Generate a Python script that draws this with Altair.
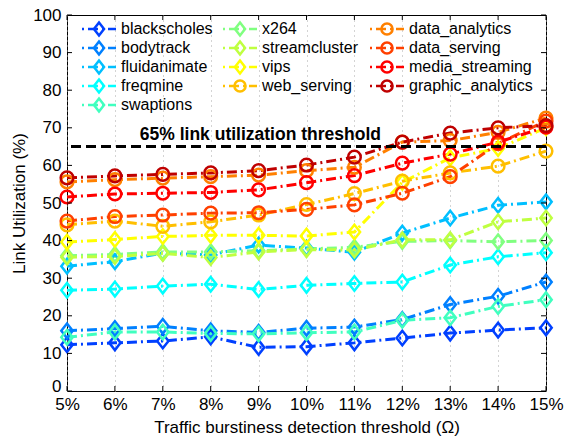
import altair as alt
import pandas as pd

# Detection thresholds (Ω, in %)
thresholds = [5, 6, 7, 8, 9, 10, 11, 12, 13, 14, 15]
y_ticks = [0, 10, 20, 30, 40, 50, 60, 70, 80, 90, 100]
link_threshold = [65]

# Link utilization (%) per benchmark
blackscholes = [12.3, 12.8, 13.3, 14.4, 11.6, 11.8, 12.8, 14.1, 15.4, 16.2, 16.8]
bodytrack = [16.0, 16.6, 17.2, 16.0, 15.6, 16.7, 17.0, 19.0, 23.0, 25.2, 29.0]
fluidanimate = [33.2, 34.4, 36.7, 36.2, 38.8, 38.0, 36.9, 42.0, 46.0, 49.4, 50.3]
freqmine = [26.8, 27.1, 27.9, 28.4, 27.0, 28.1, 28.6, 29.0, 33.5, 35.7, 36.8]
swaptions = [14.3, 15.7, 15.7, 15.3, 15.2, 15.5, 15.7, 18.8, 19.5, 22.5, 24.3]
x264 = [36.0, 36.3, 37.0, 37.0, 37.3, 37.8, 38.2, 39.8, 40.0, 39.7, 40.0]
streamcluster = [35.6, 35.8, 36.6, 35.5, 37.0, 37.6, 37.5, 40.2, 40.2, 45.0, 46.0]
vips = [39.6, 40.3, 41.1, 41.4, 41.4, 41.2, 42.3, 55.5, 62.0, 64.5, 70.0]
web_serving = [44.2, 45.2, 43.8, 45.0, 46.8, 49.6, 52.5, 55.8, 58.0, 59.8, 63.8]
data_analytics = [55.6, 56.2, 56.6, 57.0, 57.4, 58.6, 59.5, 66.2, 66.6, 68.8, 72.6]
data_serving = [45.2, 46.4, 46.8, 47.3, 47.4, 48.3, 49.5, 52.6, 57.0, 65.8, 71.8]
media_streaming = [51.6, 52.4, 52.6, 52.8, 53.5, 55.4, 57.3, 60.6, 63.0, 66.2, 70.2]
graphic_analytics = [56.7, 57.2, 57.6, 58.0, 58.6, 60.1, 62.2, 66.2, 68.6, 70.0, 70.6]

series = {
    "blackscholes": blackscholes,
    "bodytrack": bodytrack,
    "fluidanimate": fluidanimate,
    "freqmine": freqmine,
    "swaptions": swaptions,
    "x264": x264,
    "streamcluster": streamcluster,
    "vips": vips,
    "web_serving": web_serving,
    "data_analytics": data_analytics,
    "data_serving": data_serving,
    "media_streaming": media_streaming,
    "graphic_analytics": graphic_analytics,
}
colors = {
    "blackscholes": "#0040ff",
    "bodytrack": "#0080ff",
    "fluidanimate": "#00bfff",
    "freqmine": "#00ffff",
    "swaptions": "#40ffbf",
    "x264": "#80ff80",
    "streamcluster": "#bfff40",
    "vips": "#ffff00",
    "web_serving": "#ffbf00",
    "data_analytics": "#ff8000",
    "data_serving": "#ff4000",
    "media_streaming": "#ff0000",
    "graphic_analytics": "#bf0000",
}
circle_series = {"web_serving", "data_analytics", "data_serving",
                 "media_streaming", "graphic_analytics"}

# Legend columns
legend_col1 = ["blackscholes", "bodytrack", "fluidanimate", "freqmine", "swaptions"]
legend_col2 = ["x264", "streamcluster", "vips", "web_serving"]
legend_col3 = ["data_analytics", "data_serving", "media_streaming", "graphic_analytics"]

DIAMOND = "M0,-1.15L0.9,0L0,1.15L-0.9,0Z"
CIRCLE = "circle"

names = list(series.keys())

rows = []
for name, vals in series.items():
    for t, v in zip(thresholds, vals):
        rows.append({"threshold": t, "util": v, "series": name})
df = pd.DataFrame(rows)

leg_rows = []
for c, col_names in enumerate([legend_col1, legend_col2, legend_col3]):
    for r, name in enumerate(col_names):
        leg_rows.append({"series": name, "col": c, "row": r})
leg_df = pd.DataFrame(leg_rows)

FONT = "Liberation Sans"
W, H = 479, 376

x_scale = alt.Scale(domain=[5, 15], nice=False, zero=False)
y_scale = alt.Scale(domain=[0, 100], nice=False)
color_scale = alt.Scale(domain=names, range=[colors[s] for s in names])
shape_scale = alt.Scale(
    domain=names,
    range=[CIRCLE if s in circle_series else DIAMOND for s in names],
)

x_axis = alt.Axis(
    values=thresholds,
    labelExpr="datum.value + '%'",
    title="Traffic burstiness detection threshold (Ω)",
    ticks=False,
    domain=False,
    grid=True,
    gridDash=[1, 4],
    gridColor="#a8a8a8",
    gridWidth=1,
    labelFlush=False,
    labelOverlap=False,
    labelPadding=5,
    titlePadding=7,
)
y_axis = alt.Axis(
    values=y_ticks,
    title="Link Utilization (%)",
    ticks=False,
    domain=False,
    grid=False,
    labelFlush=False,
    labelOverlap=False,
    labelOffset={"expr": "datum.value == 0 ? -5 : 0"},
    labelPadding=6,
    titlePadding=4,
)


def X(field):
    return alt.X(field, scale=x_scale, axis=x_axis)


def Y(field):
    return alt.Y(field, scale=y_scale, axis=y_axis)


color_enc = alt.Color("series:N", scale=color_scale, legend=None)
shape_enc = alt.Shape("series:N", scale=shape_scale, legend=None)
DASH_DOT = [10, 4, 2, 4]

base = alt.Chart(df)

lines = base.mark_line(strokeWidth=3, strokeDash=DASH_DOT).encode(
    x=X("threshold:Q"),
    y=Y("util:Q"),
    color=color_enc,
    order=alt.Order("threshold:Q"),
)

points = base.mark_point(filled=False, strokeWidth=2.5, size=160, opacity=1).encode(
    x=X("threshold:Q"),
    y=Y("util:Q"),
    color=color_enc,
    shape=shape_enc,
)

thr_df = pd.DataFrame({"util": link_threshold})
thr_line = alt.Chart(thr_df).mark_rule(
    color="black", strokeWidth=3, strokeDash=[10, 5]
).encode(y=Y("util:Q"))

thr_text = alt.Chart(thr_df).mark_text(
    text="65% link utilization threshold",
    font=FONT,
    fontSize=17.5,
    fontWeight="bold",
    align="left",
    baseline="middle",
    dy=-12,
    color="black",
).encode(
    x=alt.datum(6.52, scale=x_scale, axis=x_axis),
    y=Y("util:Q"),
)

# Inward tick marks on all four sides of the frame
xt_df = pd.DataFrame({"threshold": thresholds})
yt_df = pd.DataFrame({"util": y_ticks})
tick_style = dict(color="black", strokeWidth=1)
x_ticks_bottom = alt.Chart(xt_df).mark_rule(**tick_style).encode(
    x=X("threshold:Q"), y=alt.value(H), y2=alt.value(H - 5))
x_ticks_top = alt.Chart(xt_df).mark_rule(**tick_style).encode(
    x=X("threshold:Q"), y=alt.value(0), y2=alt.value(5))
y_ticks_left = alt.Chart(yt_df).mark_rule(**tick_style).encode(
    y=Y("util:Q"), x=alt.value(0), x2=alt.value(5))
y_ticks_right = alt.Chart(yt_df).mark_rule(**tick_style).encode(
    y=Y("util:Q"), x=alt.value(W - 5), x2=alt.value(W))

# Legend: three columns of line sample + marker + label, placed in pixels
leg_base = alt.Chart(leg_df).transform_calculate(
    lx="[32, 173, 320][datum.col]",
    ly="14 + 19 * datum.row",
)
leg_line = leg_base.transform_calculate(
    x0="datum.lx - 17", x1="datum.lx + 17"
).mark_rule(strokeWidth=2.5, strokeDash=[2, 4, 10, 4]).encode(
    x=alt.X("x0:Q", scale=None),
    x2="x1:Q",
    y=alt.Y("ly:Q", scale=None),
    color=color_enc,
)
leg_marker = leg_base.mark_point(filled=False, strokeWidth=2.5, size=125, opacity=1).encode(
    x=alt.X("lx:Q", scale=None),
    y=alt.Y("ly:Q", scale=None),
    color=color_enc,
    shape=shape_enc,
)
leg_label = leg_base.mark_text(
    align="left", baseline="middle", dx=22, font=FONT, fontSize=16, color="black"
).encode(
    x=alt.X("lx:Q", scale=None),
    y=alt.Y("ly:Q", scale=None),
    text="series:N",
)

chart = alt.layer(
    lines, points, thr_line, thr_text,
    x_ticks_bottom, x_ticks_top, y_ticks_left, y_ticks_right,
    leg_line, leg_marker, leg_label,
).properties(
    width=W,
    height=H,
    autosize=alt.AutoSizeParams(type="none"),
    padding={"left": 67, "top": 15, "right": 18, "bottom": 47},
    background="white",
).configure_view(
    stroke="black", strokeWidth=1
).configure_axis(
    labelFont=FONT,
    labelFontSize=17,
    labelColor="black",
    titleFont=FONT,
    titleFontSize=17,
    titleFontWeight="normal",
    titleColor="black",
)

chart.save("out.html", embed_options={"renderer": "svg", "actions": False})
